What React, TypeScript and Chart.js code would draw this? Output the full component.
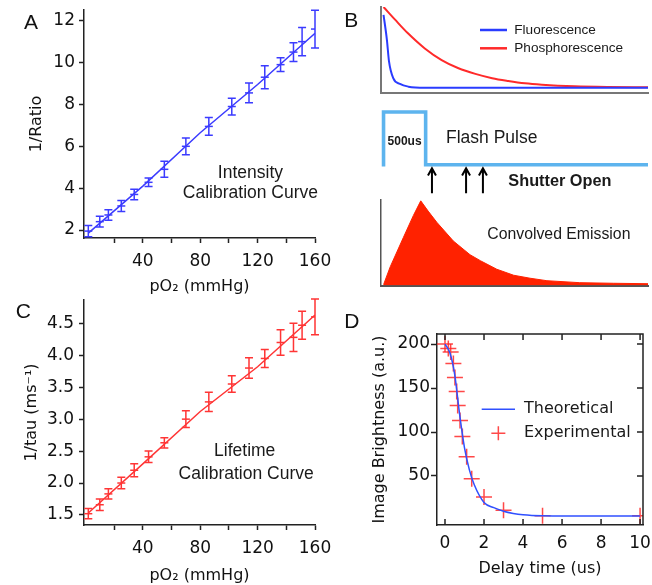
import React, { useEffect, useRef } from 'react';
import { Chart, registerables } from 'chart.js';

Chart.register(...registerables);
Chart.defaults.font.family = 'DejaVu Sans';
Chart.defaults.color = '#111';

// ---------- Panels A & C: calibration curves ----------
const pO2 = [2, 10, 16, 25, 34, 44, 55, 70, 86, 102, 114, 125, 136, 145, 151, 160];
const invRatio = [1.95, 2.4, 2.72, 3.15, 3.7, 4.28, 4.9, 6.0, 6.95, 7.9, 8.55, 9.3, 9.9, 10.5, 11.0, 11.6];
const invRatioErr = [0.27, 0.26, 0.25, 0.26, 0.25, 0.2, 0.38, 0.4, 0.42, 0.4, 0.47, 0.55, 0.33, 0.45, 0.68, 0.9];
const fitPO2 = [2, 40, 80, 120, 160];
const invRatioFit = [1.85, 4.1, 6.65, 8.95, 11.4];
const invRatioTicks = [2, 4, 6, 8, 10, 12];

const invTau = [1.52, 1.66, 1.83, 2.0, 2.2, 2.41, 2.63, 3.0, 3.27, 3.55, 3.8, 3.95, 4.2, 4.28, 4.47, 4.6];
const invTauErr = [0.08, 0.09, 0.08, 0.09, 0.1, 0.09, 0.08, 0.13, 0.15, 0.13, 0.16, 0.14, 0.2, 0.22, 0.22, 0.28];
const invTauFit = [1.53, 2.3, 3.12, 3.82, 4.63];
const invTauTicks = [1.5, 2.0, 2.5, 3.0, 3.5, 4.0, 4.5];

const pO2Ticks = [20, 40, 60, 80, 100, 120, 140, 160];
const pO2Labels = [40, 80, 120, 160];

// ---------- Panel B: decay schematic ----------
const fluorTime = [0, 40, 65, 115, 195, 295, 495, 3140];
const fluorValue = [0.91, 0.62, 0.37, 0.175, 0.108, 0.077, 0.065, 0.065];
const phosTime = [0, 140, 290, 490, 690, 890, 1090, 1290, 1480, 1680, 1880, 2270, 2670, 3140];
const phosValue = [1.0, 0.85, 0.695, 0.52, 0.385, 0.29, 0.225, 0.175, 0.143, 0.116, 0.1, 0.081, 0.073, 0.07];
const pulseTime = [0, 0, 500, 500, 3140];
const pulseLevel = [0, 1, 1, 0, 0];
const shutterTimes = [575, 980, 1180];
const emissionTime = [0, 80, 235, 355, 442, 530, 632, 829, 1027, 1150, 1345, 1545, 1740, 1940, 2330, 2730, 3140];
const emissionValue = [0.01, 0.22, 0.56, 0.82, 0.99, 0.87, 0.74, 0.52, 0.36, 0.29, 0.19, 0.12, 0.085, 0.056, 0.033, 0.026, 0.021];

// ---------- Panel D: brightness vs delay ----------
const delayTheory = [0, 0.25, 0.5, 0.75, 1, 1.25, 1.5, 2, 2.5, 3, 3.5, 4, 5, 6, 8, 10];
const brightnessTheory = [200, 190, 165, 120, 82, 57, 40, 20, 14, 10, 7.5, 6, 4.8, 4.6, 4.5, 4.5];
const delayExp = [0, 0.17, 0.29, 0.43, 0.51, 0.6, 0.65, 0.77, 0.89, 1.11, 1.37, 2.0, 3.0, 5.0, 10.0];
const brightnessExp = [200, 195, 191, 178, 162, 146, 130, 113, 95, 72, 47, 26, 11, 4.8, 4.8];
const delayTicks = [0, 2, 4, 6, 8, 10];
const brightnessTicks = [50, 100, 150, 200];

// ---------- shared styling ----------
const AXIS = '#222';
const TICK_FONT = { family: 'DejaVu Sans', size: 17 };
const TITLE_FONT = { family: 'DejaVu Sans', size: 16 };
const NOTE_FONT = '17.5px "Liberation Sans"';
const B_MIN = -36;
const B_MAX = 3140;

function pts(xs, ys) {
  return xs.map((x, i) => ({ x: x, y: ys[i] }));
}

function fixedTicks(values) {
  return function (s) {
    s.ticks = values.map((v) => ({ value: v }));
  };
}

const errorBarPlugin = {
  id: 'errorBars',
  afterDatasetsDraw(chart) {
    const ctx = chart.ctx;
    const xs = chart.scales.x;
    const ys = chart.scales.y;
    chart.data.datasets.forEach((ds) => {
      if (!ds.errors) return;
      ctx.save();
      ctx.strokeStyle = ds.borderColor;
      ctx.lineWidth = 1.5;
      ctx.beginPath();
      ds.data.forEach((p, j) => {
        const x = xs.getPixelForValue(p.x);
        const y1 = ys.getPixelForValue(p.y + ds.errors[j]);
        const y2 = ys.getPixelForValue(p.y - ds.errors[j]);
        ctx.moveTo(x, y1);
        ctx.lineTo(x, y2);
        ctx.moveTo(x - 4, y1);
        ctx.lineTo(x + 4, y1);
        ctx.moveTo(x - 4, y2);
        ctx.lineTo(x + 4, y2);
      });
      ctx.stroke();
      ctx.restore();
    });
  },
};

function notesPlugin(items) {
  return {
    id: 'notes',
    afterDraw(chart) {
      const ctx = chart.ctx;
      const xs = chart.scales.x;
      const ys = chart.scales.y;
      ctx.save();
      ctx.fillStyle = '#1a1a1a';
      items.forEach((it) => {
        ctx.font = it.font || NOTE_FONT;
        ctx.textAlign = it.align || 'center';
        ctx.textBaseline = it.baseline || 'alphabetic';
        ctx.fillText(it.text, xs.getPixelForValue(it.x), ys.getPixelForValue(it.y));
      });
      ctx.restore();
    },
  };
}

function legendPlugin(x0, y0, rowH, lineLen, textX, font, lineW) {
  return {
    id: 'customLegend',
    afterDraw(chart) {
      const ctx = chart.ctx;
      chart.data.datasets.forEach((ds, i) => {
        const y = y0 + i * rowH;
        ctx.save();
        ctx.strokeStyle = ds.borderColor;
        if (ds.showLine === false) {
          const cx = x0 + lineLen / 2;
          const r = 7;
          ctx.lineWidth = 1.5;
          ctx.beginPath();
          ctx.moveTo(cx - r, y);
          ctx.lineTo(cx + r, y);
          ctx.moveTo(cx, y - r);
          ctx.lineTo(cx, y + r);
          ctx.stroke();
        } else {
          ctx.lineWidth = lineW;
          ctx.beginPath();
          ctx.moveTo(x0, y);
          ctx.lineTo(x0 + lineLen, y);
          ctx.stroke();
        }
        ctx.fillStyle = '#1a1a1a';
        ctx.font = font;
        ctx.textAlign = 'left';
        ctx.textBaseline = 'middle';
        ctx.fillText(ds.label, textX, y);
        ctx.restore();
      });
    },
  };
}

const boxTicksPlugin = {
  id: 'boxTicks',
  afterDraw(chart) {
    const ctx = chart.ctx;
    const a = chart.chartArea;
    const x = chart.scales.x;
    const y = chart.scales.y;
    ctx.save();
    ctx.strokeStyle = AXIS;
    ctx.lineWidth = 1.5;
    ctx.beginPath();
    ctx.moveTo(a.left, a.top);
    ctx.lineTo(a.right, a.top);
    ctx.lineTo(a.right, a.bottom);
    x.ticks.forEach((t) => {
      const px = x.getPixelForValue(t.value);
      ctx.moveTo(px, a.bottom);
      ctx.lineTo(px, a.bottom - 6);
      ctx.moveTo(px, a.top);
      ctx.lineTo(px, a.top + 6);
    });
    y.ticks.forEach((t) => {
      const py = y.getPixelForValue(t.value);
      ctx.moveTo(a.right, py);
      ctx.lineTo(a.right - 6, py);
    });
    ctx.stroke();
    ctx.restore();
  },
};

const arrowsPlugin = {
  id: 'arrows',
  afterDraw(chart) {
    const ctx = chart.ctx;
    const xs = chart.scales.x;
    const ys = chart.scales.y;
    ctx.save();
    ctx.strokeStyle = '#000';
    ctx.lineWidth = 2;
    shutterTimes.forEach((t) => {
      const x = xs.getPixelForValue(t);
      const yTip = ys.getPixelForValue(-0.07);
      const yBase = ys.getPixelForValue(-0.54);
      ctx.beginPath();
      ctx.moveTo(x, yBase);
      ctx.lineTo(x, yTip);
      ctx.moveTo(x - 4, yTip + 7);
      ctx.lineTo(x, yTip);
      ctx.lineTo(x + 4, yTip + 7);
      ctx.stroke();
    });
    ctx.restore();
  },
};

function calibrationConfig(o) {
  return {
    type: 'line',
    data: {
      datasets: [
        { label: 'fit', data: pts(fitPO2, o.fit), borderColor: o.color, borderWidth: 1.5, pointRadius: 0, fill: false },
        {
          label: 'data', data: pts(pO2, o.values), errors: o.errors, showLine: false,
          borderColor: o.color, backgroundColor: o.color, pointStyle: 'line', pointRadius: 4,
          pointBorderWidth: 1.5, pointBorderColor: o.color,
        },
      ],
    },
    options: {
      responsive: false, animation: false, events: [],
      layout: { padding: { left: 0, top: 24, right: 25, bottom: 0 } },
      plugins: { legend: { display: false }, tooltip: { enabled: false } },
      scales: {
        x: {
          type: 'linear', min: -1, max: 160,
          afterBuildTicks: fixedTicks(pO2Ticks),
          afterFit: (s) => { s.height = o.xHeight; },
          ticks: {
            font: TICK_FONT, color: '#111', padding: o.xTickPad, autoSkip: false, maxRotation: 0,
            callback: (v) => (pO2Labels.indexOf(v) >= 0 ? String(v) : ''),
          },
          grid: { drawOnChartArea: false, drawTicks: true, tickLength: 5, color: AXIS, tickWidth: 1.5 },
          border: { display: true, color: AXIS, width: 1.5 },
          title: { display: true, text: 'pO₂ (mmHg)', font: TITLE_FONT, color: '#111', padding: { top: 0, bottom: o.xTitlePad } },
        },
        y: {
          type: 'linear', min: o.yMin, max: o.yMax,
          afterBuildTicks: fixedTicks(o.yTicks),
          afterFit: (s) => { s.width = 84; },
          ticks: {
            font: TICK_FONT, color: '#111', padding: o.yTickPad,
            callback: (v) => (o.decimals ? Number(v).toFixed(o.decimals) : String(v)),
          },
          grid: { drawOnChartArea: false, drawTicks: true, tickLength: 5, color: AXIS, tickWidth: 1.5 },
          border: { display: true, color: AXIS, width: 1.5 },
          title: { display: true, text: o.yTitle, font: TITLE_FONT, color: '#111', padding: { top: o.yTitlePad, bottom: 0 } },
        },
      },
    },
    plugins: [errorBarPlugin, notesPlugin(o.notes)],
  };
}

function configA() {
  return calibrationConfig({
    values: invRatio, errors: invRatioErr, fit: invRatioFit, color: '#3b3bff',
    yMin: 1.62, yMax: 12.51, yTicks: invRatioTicks, decimals: 0, yTitle: '1/Ratio',
    xHeight: 62, xTickPad: 8.5, xTitlePad: 3.5, yTickPad: 4, yTitlePad: 27,
    notes: [
      { text: 'Intensity', x: 115, y: 4.47 },
      { text: 'Calibration Curve', x: 115, y: 3.51 },
    ],
  });
}

function configC() {
  return calibrationConfig({
    values: invTau, errors: invTauErr, fit: invTauFit, color: '#ff3535',
    yMin: 1.343, yMax: 4.865, yTicks: invTauTicks, decimals: 1, yTitle: '1/tau (ms⁻¹)',
    xHeight: 60, xTickPad: 8.5, xTitlePad: 0, yTickPad: 5, yTitlePad: 22,
    notes: [
      { text: 'Lifetime', x: 111, y: 2.42 },
      { text: 'Calibration Curve', x: 112, y: 2.07 },
    ],
  });
}

function bAxis(color, width, min, max, isX) {
  return {
    type: 'linear', min: min, max: max,
    afterFit: (s) => { if (isX) { s.height = 0; } else { s.width = 0; } },
    ticks: { display: false },
    grid: { display: true, drawOnChartArea: false, drawTicks: false },
    border: { display: true, color: color, width: width },
  };
}

function configBTop() {
  return {
    type: 'line',
    data: {
      datasets: [
        { label: 'Fluorescence', data: pts(fluorTime, fluorValue), borderColor: '#2a3cff', borderWidth: 2, pointRadius: 0, cubicInterpolationMode: 'monotone' },
        { label: 'Phosphorescence', data: pts(phosTime, phosValue), borderColor: '#ff2a2a', borderWidth: 2, pointRadius: 0, cubicInterpolationMode: 'monotone' },
      ],
    },
    options: {
      responsive: false, animation: false, events: [],
      layout: { padding: { left: 40.5, top: 7, right: 4, bottom: 6.7 } },
      plugins: { legend: { display: false }, tooltip: { enabled: false } },
      scales: { x: bAxis('#777', 2, B_MIN, B_MAX, true), y: bAxis('#777', 2, 0, 1, false) },
    },
    plugins: [legendPlugin(140, 30, 18.3, 27, 174.3, '13.6px "Liberation Sans"', 2.5)],
  };
}

function configBMid() {
  return {
    type: 'line',
    data: {
      datasets: [
        { label: 'Flash Pulse', data: pts(pulseTime, pulseLevel), borderColor: '#5db4ee', borderWidth: 3.6, pointRadius: 0, borderJoinStyle: 'miter', borderCapStyle: 'square' },
      ],
    },
    options: {
      responsive: false, animation: false, events: [],
      layout: { padding: { left: 40.5, top: 10, right: 4, bottom: 10 } },
      plugins: { legend: { display: false }, tooltip: { enabled: false } },
      scales: {
        x: { type: 'linear', min: B_MIN, max: B_MAX, display: false },
        y: { type: 'linear', min: -0.575, max: 1.133, display: false },
      },
    },
    plugins: [
      arrowsPlugin,
      notesPlugin([
        { text: '500us', x: 250, y: 0.436, font: 'bold 12px "Liberation Sans"', baseline: 'middle' },
        { text: 'Flash Pulse', x: 742, y: 0.5, font: '17.5px "Liberation Sans"', align: 'left', baseline: 'middle' },
        { text: 'Shutter Open', x: 1482, y: -0.32, font: 'bold 16.3px "Liberation Sans"', align: 'left', baseline: 'middle' },
      ]),
    ],
  };
}

function configBBot() {
  return {
    type: 'line',
    data: {
      datasets: [
        { label: 'Convolved Emission', data: pts(emissionTime, emissionValue), borderColor: '#ff2200', backgroundColor: '#ff2200', borderWidth: 1, pointRadius: 0, fill: 'origin' },
      ],
    },
    options: {
      responsive: false, animation: false, events: [],
      layout: { padding: { left: 40.5, top: 10, right: 4, bottom: 14.5 } },
      plugins: { legend: { display: false }, tooltip: { enabled: false } },
      scales: { x: bAxis('#555', 2, B_MIN, B_MAX, true), y: bAxis('#555', 1.5, 0, 1, false) },
    },
    plugins: [
      notesPlugin([
        { text: 'Convolved Emission', x: 1232, y: 0.59, font: '15.8px "Liberation Sans"', align: 'left', baseline: 'middle' },
      ]),
    ],
  };
}

function configD() {
  return {
    type: 'line',
    data: {
      datasets: [
        { label: 'Theoretical', data: pts(delayTheory, brightnessTheory), borderColor: '#3050ff', borderWidth: 1.5, pointRadius: 0, cubicInterpolationMode: 'monotone' },
        {
          label: 'Experimental', data: pts(delayExp, brightnessExp), showLine: false, borderColor: 'rgba(255,40,40,0.85)',
          pointStyle: 'cross', pointRadius: 8, pointBorderWidth: 1.5, pointBorderColor: 'rgba(255,40,40,0.85)',
        },
      ],
    },
    options: {
      responsive: false, animation: false, events: [],
      layout: { padding: { left: 0, top: 34, right: 20, bottom: 0 } },
      plugins: { legend: { display: false }, tooltip: { enabled: false } },
      scales: {
        x: {
          type: 'linear', min: -0.41, max: 10.15,
          afterBuildTicks: fixedTicks(delayTicks),
          afterFit: (s) => { s.height = 60; },
          ticks: { font: TICK_FONT, color: '#111', padding: 8.5, autoSkip: false, maxRotation: 0 },
          grid: { drawOnChartArea: false, drawTicks: false },
          border: { display: true, color: AXIS, width: 1.5 },
          title: { display: true, text: 'Delay time (us)', font: TITLE_FONT, color: '#111', padding: { top: 0, bottom: 7 } },
        },
        y: {
          type: 'linear', min: -5.7, max: 211.4,
          afterBuildTicks: fixedTicks(brightnessTicks),
          afterFit: (s) => { s.width = 97; },
          ticks: { font: TICK_FONT, color: '#111', padding: 1 },
          grid: { drawOnChartArea: false, drawTicks: true, tickLength: 6, color: AXIS, tickWidth: 1.5 },
          border: { display: true, color: AXIS, width: 1.5 },
          title: { display: true, text: 'Image Brightness (a.u.)', font: TITLE_FONT, color: '#111', padding: { top: 30, bottom: 0 } },
        },
      },
    },
    plugins: [boxTicksPlugin, legendPlugin(141.7, 109.3, 24, 33.3, 184, '16px "DejaVu Sans"', 1.5)],
  };
}

function PanelChart(props) {
  const ref = useRef(null);
  useEffect(() => {
    const chart = new Chart(ref.current, props.config());
    return () => chart.destroy();
  }, []);
  return (
    <canvas
      ref={ref}
      width={props.width}
      height={props.height}
      style={{ position: 'absolute', left: props.left, top: props.top, width: props.width, height: props.height }}
    />
  );
}

const letterStyle = {
  position: 'absolute',
  font: '21px "Liberation Sans"',
  lineHeight: '21px',
  color: '#111',
  margin: 0,
};

export default function App() {
  return (
    <div
      style={{
        position: 'absolute', left: 0, top: 0, width: 652, height: 585,
        overflow: 'hidden', background: '#fff',
      }}
    >
      <PanelChart left={0} top={-14} width={340} height={314} config={configA} />
      <PanelChart left={0} top={276} width={340} height={309} config={configC} />
      <PanelChart left={340} top={0} width={312} height={100} config={configBTop} />
      <PanelChart left={340} top={95} width={312} height={110} config={configBMid} />
      <PanelChart left={340} top={190} width={312} height={110} config={configBBot} />
      <PanelChart left={340} top={300} width={323} height={285} config={configD} />
      <div style={{ ...letterStyle, left: 24, top: 10.5 }}>A</div>
      <div style={{ ...letterStyle, left: 344.3, top: 8.9 }}>B</div>
      <div style={{ ...letterStyle, left: 15.7, top: 300.2 }}>C</div>
      <div style={{ ...letterStyle, left: 344.3, top: 310.2 }}>D</div>
    </div>
  );
}
